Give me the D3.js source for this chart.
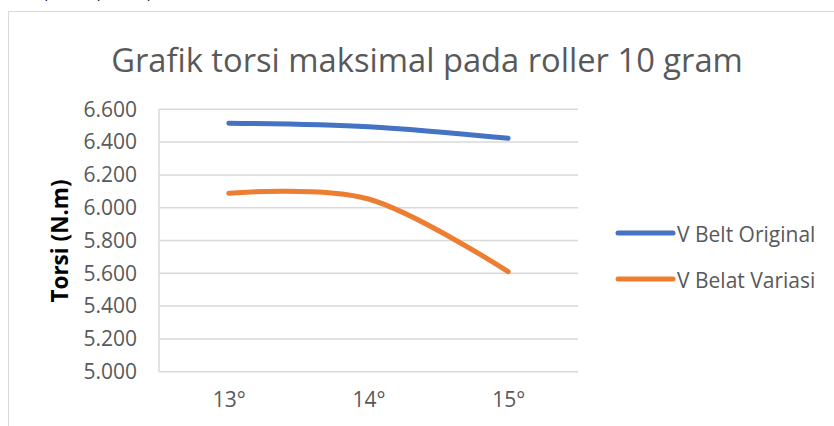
<!DOCTYPE html>
<html>
<head>
<meta charset="utf-8">
<script src="https://cdn.jsdelivr.net/npm/d3@7"></script>
<style>
  body { margin: 0; background: #fff; }
  svg { display: block; font-family: "Open Sans", sans-serif; }
</style>
</head>
<body>
<svg id="chart" width="834" height="426"></svg>
<script>
// data
const categories = ["13°", "14°", "15°"];
const vBeltOriginal = [6.515, 6.494, 6.423];
const vBeltVariasi = [6.088, 6.053, 5.610];
const seriesNames = ["V Belt Original", "V Belat Variasi"];
const yTicks = [5.0, 5.2, 5.4, 5.6, 5.8, 6.0, 6.2, 6.4, 6.6];

const colors = ["#4472C4", "#ED7D31"];
const series = [vBeltOriginal, vBeltVariasi];

const svg = d3.select("#chart");

// cut-off text above the chart frame
svg.append("text").attr("x", 36).attr("y", -1).attr("font-size", 18).attr("fill", "#000")
  .attr("font-style", "italic").attr("xml:space", "preserve")
  .text("a,        b,        c,");

// chart frame
svg.append("rect").attr("x", 8.5).attr("y", 11.5).attr("width", 840).attr("height", 430)
  .attr("fill", "#fff").attr("stroke", "#d9d9d9").attr("stroke-width", 1);

const plot = { left: 159, right: 578, top: 109.3, bottom: 371.7 };

const x = d3.scalePoint().domain(categories).range([plot.left, plot.right]).padding(0.5);
const y = d3.scaleLinear().domain([5, 6.6]).range([plot.bottom, plot.top]);

// title
svg.append("text").attr("x", 427).attr("y", 72).attr("text-anchor", "middle")
  .attr("font-size", 32.7).attr("fill", "#595959")
  .text("Grafik torsi maksimal pada roller 10 gram");

// gridlines
svg.append("g").selectAll("line").data(yTicks).join("line")
  .attr("x1", plot.left).attr("x2", plot.right)
  .attr("y1", d => y(d)).attr("y2", d => y(d))
  .attr("stroke", "#d9d9d9").attr("stroke-width", 1.5);

// left axis line
svg.append("line").attr("x1", plot.left).attr("x2", plot.left)
  .attr("y1", plot.top).attr("y2", plot.bottom)
  .attr("stroke", "#d9d9d9").attr("stroke-width", 1.5);

// y axis
const yAxis = svg.append("g").attr("transform", `translate(${plot.left - 22},0)`)
  .call(d3.axisLeft(y).tickValues(yTicks).tickFormat(d3.format(".3f")).tickSize(0).tickPadding(0));
yAxis.select(".domain").remove();
yAxis.selectAll("text").attr("font-size", 21).attr("fill", "#595959")
  .attr("font-family", "Open Sans, sans-serif");

// x axis
const xAxis = svg.append("g").attr("transform", `translate(0,${plot.bottom + 20})`)
  .call(d3.axisBottom(x).tickSize(0).tickPadding(0));
xAxis.select(".domain").remove();
xAxis.selectAll("text").attr("font-size", 21).attr("fill", "#595959")
  .attr("font-family", "Open Sans, sans-serif");

// y axis title
svg.append("text").attr("transform", "translate(68,241) rotate(-90)")
  .attr("text-anchor", "middle").attr("font-size", 22.5).attr("font-weight", "bold")
  .attr("fill", "#000").text("Torsi (N.m)");

// lines
const line = d3.line()
  .x((d, i) => x(categories[i]))
  .y(d => y(d))
  .curve(d3.curveCardinal.tension(0));

svg.append("g").selectAll("path").data(series).join("path")
  .attr("d", d => line(d))
  .attr("fill", "none")
  .attr("stroke", (d, i) => colors[i])
  .attr("stroke-width", 5)
  .attr("stroke-linecap", "round")
  .attr("stroke-linejoin", "round");

// legend
const legend = svg.append("g").attr("transform", "translate(618,233)");
const items = legend.selectAll("g").data(seriesNames).join("g")
  .attr("transform", (d, i) => `translate(0,${i * 46})`);
items.append("line").attr("x1", 0).attr("x2", 55).attr("y1", 0).attr("y2", 0)
  .attr("stroke", (d, i) => colors[i]).attr("stroke-width", 5).attr("stroke-linecap", "round");
items.append("text").attr("x", 59).attr("y", 8.5).attr("font-size", 21)
  .attr("fill", "#595959").text(d => d);
</script>
</body>
</html>
